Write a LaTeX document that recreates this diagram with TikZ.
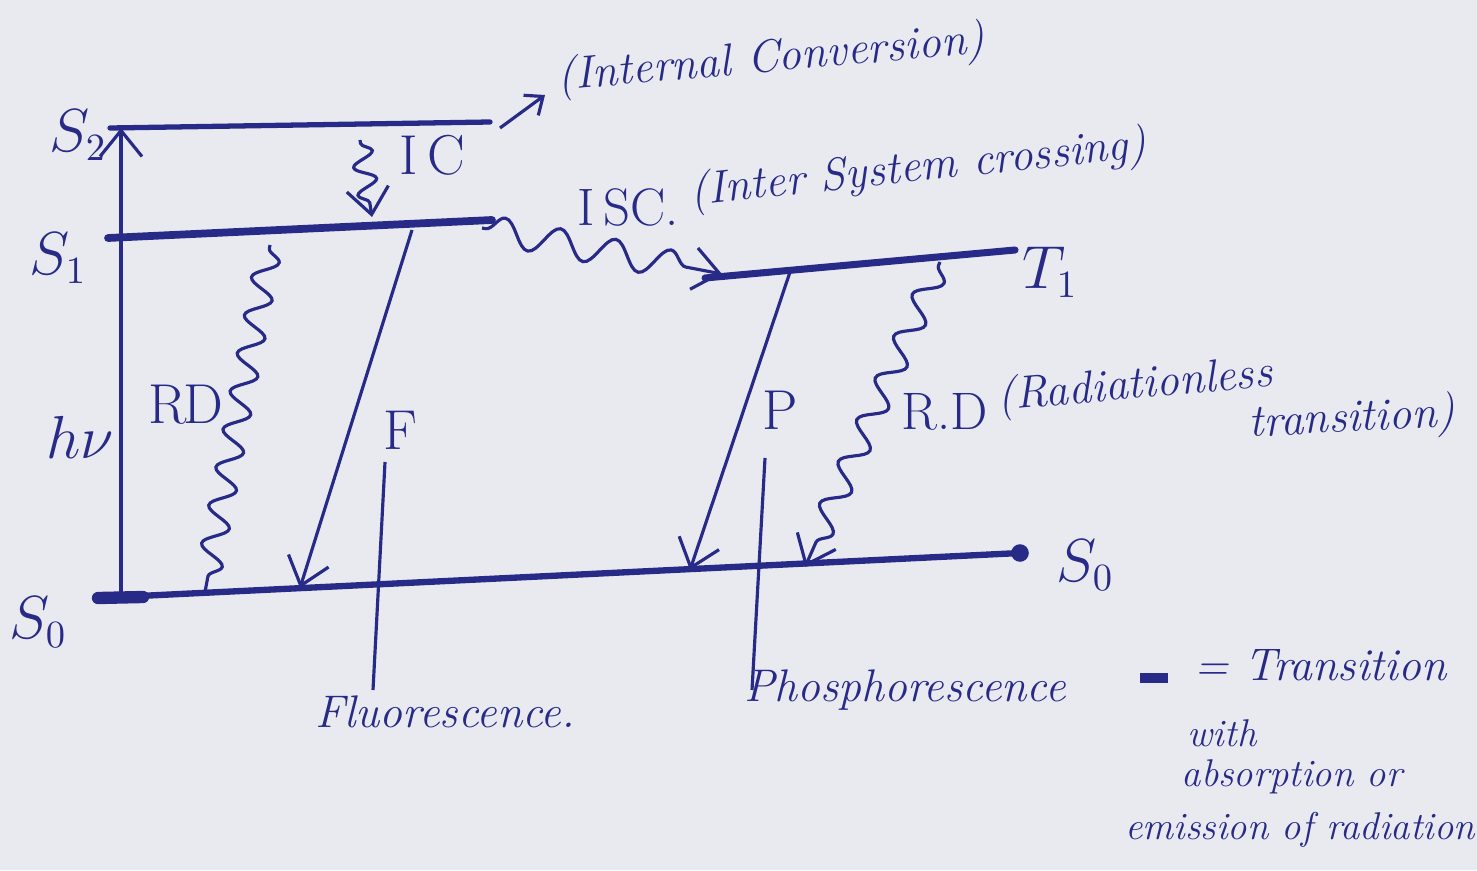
\documentclass[tikz,border=0pt]{standalone}
\usetikzlibrary{decorations.pathmorphing,arrows.meta}
\definecolor{ink}{RGB}{40,42,135}
\definecolor{paper}{RGB}{233,234,240}
\begin{document}
\begin{tikzpicture}[x=0.01cm,y=-0.01cm,
  every node/.style={text=ink,font=\itshape\fontsize{13}{15}\selectfont},
  big/.style={font=\fontsize{16}{18}\selectfont},
  small/.style={font=\itshape\fontsize{11}{13}\selectfont},
  level/.style={draw=ink,line width=1.8pt,line cap=round},
  thin/.style={draw=ink,line width=0.9pt},
  tip/.style={-{Straight Barb[length=2.6mm,width=4.2mm]}},
  wave/.style={draw=ink,line width=0.9pt,decorate,decoration={snake,amplitude=#1,segment length=12pt,pre length=1pt,post length=3pt}},
  wave/.default=3.5pt]
\fill[paper] (0,0) rectangle (1477,870);
\useasboundingbox (0,0) rectangle (1477,870);

% level end points
\coordinate (s2l) at (110,128); \coordinate (s2r) at (490,122);
\coordinate (s1l) at (108,238); \coordinate (s1r) at (492,220);
\coordinate (s0l) at (98,598);  \coordinate (s0r) at (1020,553);
\coordinate (t1l) at (705,278); \coordinate (t1r) at (1015,250);

% levels
\draw[level,line width=1.5pt] (s2l) -- (s2r);
\draw[level,line width=2.2pt] (s1l) -- (s1r);
\draw[level] (s0l) -- (s0r);
\draw[level,line width=3.5pt] (s0l) -- ++(45,-1);
\draw[level,line width=2pt] (t1l) -- (t1r);
\fill[ink] (s0r) circle (2.5pt);

% level labels
\node[big] (lS2) at (78,135) {$S_2$};
\node[big] (lS1) at (58,258) {$S_1$};
\node[big] (lS0a) at (38,622) {$S_0$};
\node[big] (lT1) at (1050,272) {$T_1$};
\node[big] (lS0b) at (1085,565) {$S_0$};

% absorption
\coordinate (hb) at (121,596); \coordinate (ht) at (121,128);
\draw[thin,tip] (hb) -- (ht);
\node[big] (hv) at (80,437) {$h\nu$};

% IC
\coordinate (ica) at (360,140); \coordinate (icb) at (372,217);
\draw[wave=3pt,decoration={segment length=8pt},tip] (ica) -- (icb);
\node[big] (IC) at (432,155) {I\,C};
\coordinate (ic1) at (500,128); \coordinate (ic2) at (545,95);
\draw[thin,-{Straight Barb[length=1.5mm,width=2.5mm]}] (ic1) -- (ic2);
\node[rotate=5,anchor=west] (icl) at (545,80) {(Internal Conversion)};

% RD left
\coordinate (rda) at (270,245); \coordinate (rdb) at (205,592);
\draw[wave=3.5pt,decoration={segment length=11pt}] (rda) -- (rdb);
\node[big] (RD) at (186,405) {R\kern-1pt D};

% Fluorescence
\coordinate (fa) at (412,230); \coordinate (fb) at (300,588);
\draw[thin,tip] (fa) -- (fb);
\node[big] (F) at (400,430) {F};
\coordinate (fl1) at (385,462); \coordinate (fl2) at (373,690);
\draw[thin] (fl1) -- (fl2);
\node (Fl) at (445,712) {Fluorescence.};

% ISC
\coordinate (isa) at (482,228); \coordinate (isb) at (722,274);
\draw[wave=4pt,decoration={segment length=16pt},tip] (isa) -- (isb);
\node[font=\fontsize{15}{17}\selectfont] (ISC) at (628,207) {I\,SC.};
\node[rotate=6,anchor=west] (iscl) at (678,195) {(Inter System crossing)};

% Phosphorescence
\coordinate (pa) at (790,272); \coordinate (pb) at (690,570);
\draw[thin,tip] (pa) -- (pb);
\node[big] (P) at (780,410) {P};
\coordinate (pl1) at (765,458); \coordinate (pl2) at (752,690);
\draw[thin] (pl1) -- (pl2);
\node (Ph) at (905,690) {Phosphorescence};

% RD right
\coordinate (rra) at (940,262); \coordinate (rrb) at (805,567);
\draw[wave=3.5pt,decoration={segment length=13pt},tip] (rra) -- (rrb);
\node[font=\fontsize{15}{17}\selectfont] (RD2) at (945,412) {R.D};
\node[rotate=5,anchor=west] (rdl1) at (985,400) {(Radiationless};
\node[rotate=3] (rdl2) at (1352,420) {transition)};

% legend
\coordinate (la) at (1140,678); \coordinate (lb) at (1168,678);
\draw[ink,line width=3pt] (la) -- (lb);
\node[anchor=west] (leg1) at (1182,665) {= Transition};
\node[small] (leg2) at (1222,733) {with};
\node[small] (leg3) at (1292,777) {absorption or};
\node[small] (leg4) at (1300,830) {emission of radiation};
\end{tikzpicture}
\end{document}
